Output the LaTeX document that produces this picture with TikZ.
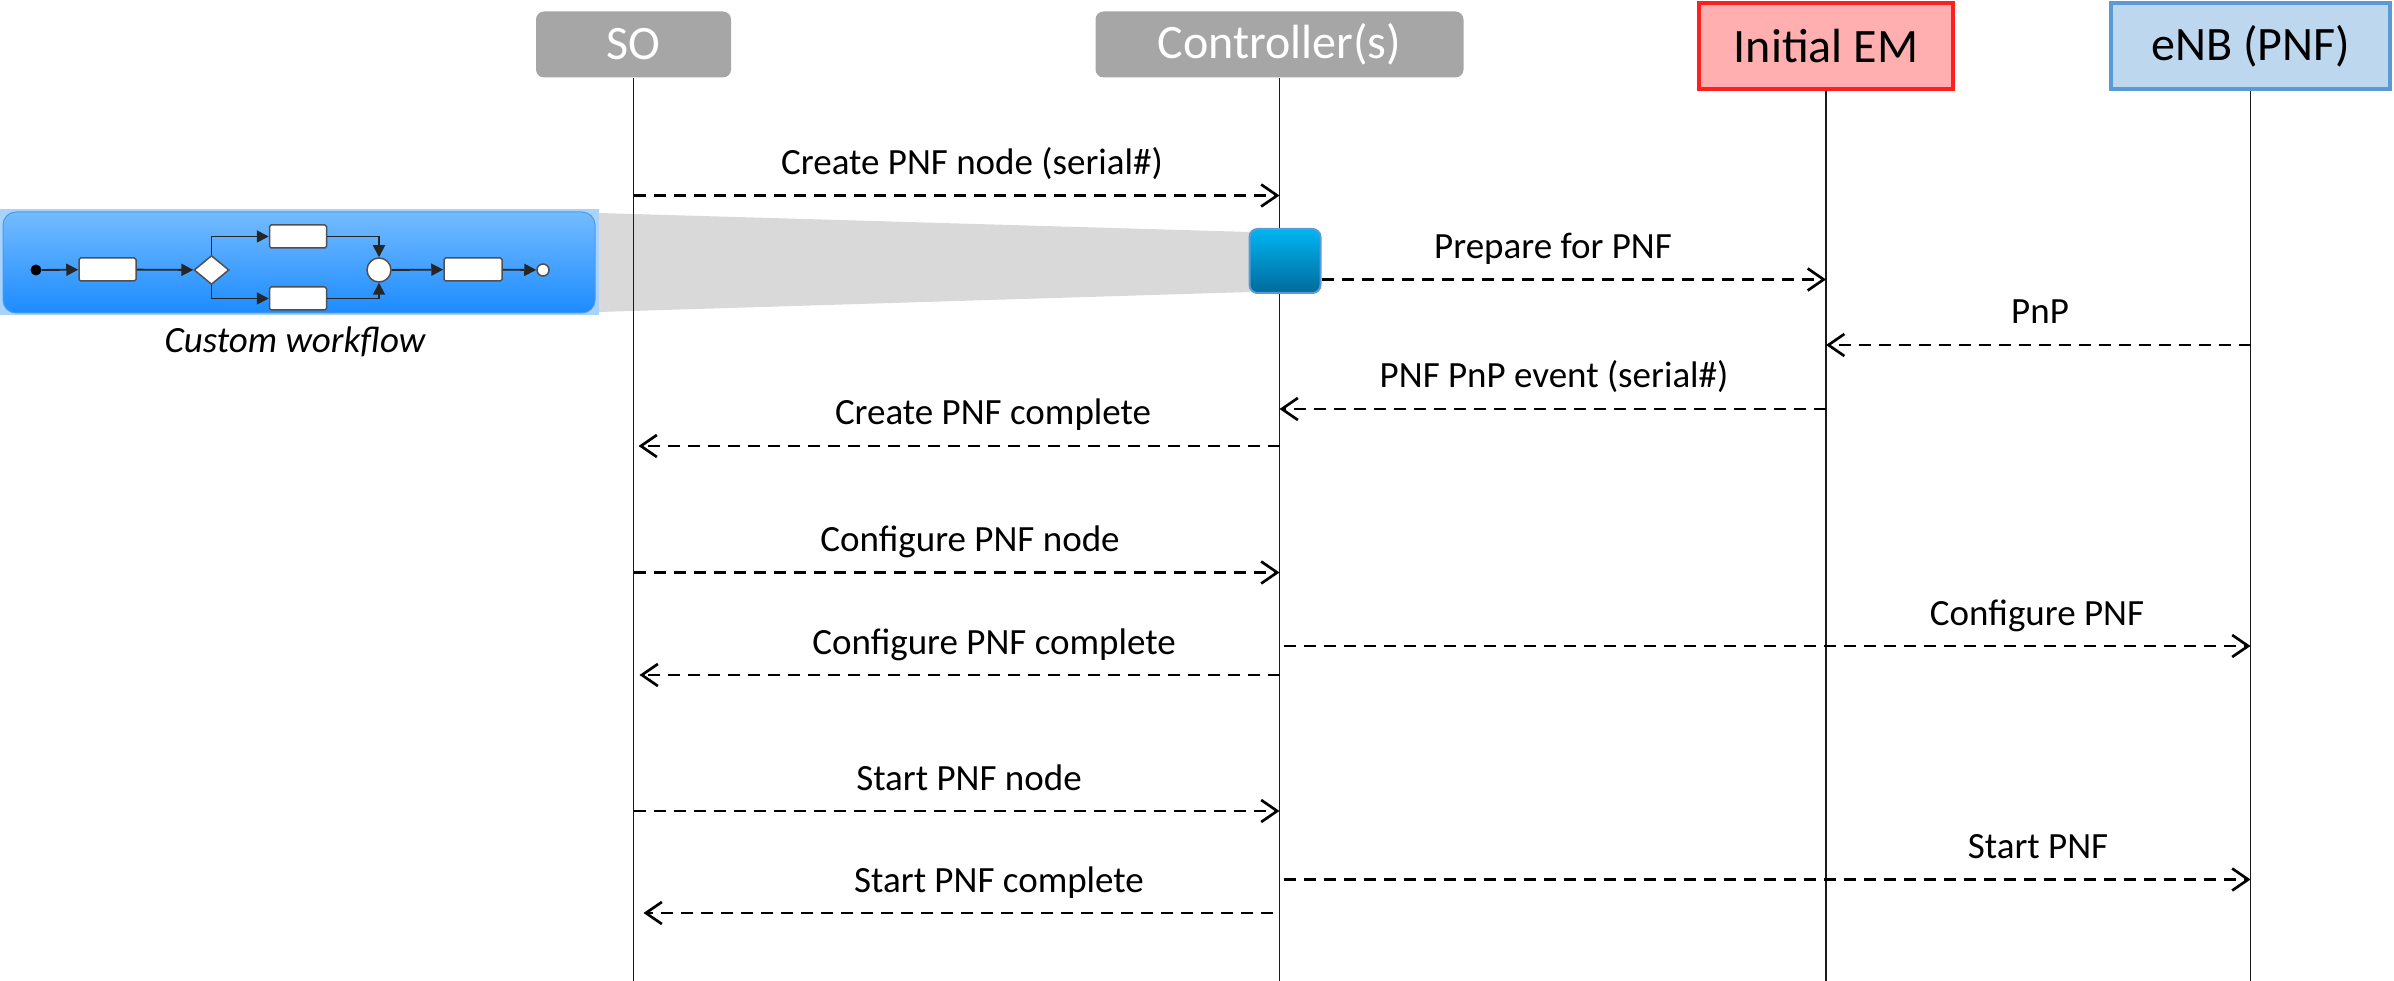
\documentclass[tikz,border=0pt]{standalone}
\usepackage{fontspec}
\setmainfont{Carlito}
\usetikzlibrary{arrows.meta,shapes.geometric}
\definecolor{hdrgray}{HTML}{A6A6A6}
\definecolor{emfill}{HTML}{FFAFAF}
\definecolor{emline}{HTML}{FF1F1F}
\definecolor{enbfill}{HTML}{BDD7EE}
\definecolor{enbline}{HTML}{5B9BD5}
\definecolor{wfframe}{HTML}{A9D3FB}
\definecolor{wftop}{HTML}{74BBFF}
\definecolor{wfbot}{HTML}{1C8CFF}
\definecolor{wfedge}{HTML}{4A9BE8}
\definecolor{acttop}{HTML}{00B5F1}
\definecolor{actbot}{HTML}{006A9C}
\definecolor{actedge}{HTML}{5B9BD5}
\definecolor{zoomgray}{HTML}{D9D9D9}
\definecolor{lifecol}{HTML}{1A1A1A}
\definecolor{taskedge}{HTML}{505050}

\begin{document}
\begin{tikzpicture}[x=0.3pt, y=-0.3pt,
  hdr/.style={rectangle, inner sep=0pt, font=\fontsize{14.4}{17}\selectfont},
  grayhdr/.style={hdr, fill=hdrgray, text=white, rounded corners=2.4pt, minimum height=19.8pt},
  emhdr/.style={hdr, fill=emfill, draw=emline, line width=1.2pt, minimum width=76.2pt, minimum height=25.8pt},
  enbhdr/.style={hdr, fill=enbfill, draw=enbline, line width=1.2pt, minimum width=83.7pt, minimum height=25.8pt},
  life/.style={draw=lifecol, line width=0.45pt},
  msg/.style={line width=0.85pt, dash pattern=on 3.6pt off 2.4pt,
    -{Straight Barb[length=4.8pt, width=6.6pt, line width=0.8pt]}},
  lbl/.style={anchor=base, inner sep=0pt, font=\fontsize{11.1}{13}\selectfont},
  task/.style={rectangle, fill=white, draw=taskedge, line width=0.45pt, rounded corners=0.5pt,
    minimum width=17.1pt, minimum height=6.9pt, inner sep=0pt},
  wfline/.style={draw=black!85, line width=0.55pt, -{Triangle[length=3.6pt, width=3.6pt]}},
]
\useasboundingbox (0,0) rectangle (2394,981);

% ---- participants ----
\node[grayhdr, minimum width=58.5pt] (so) at (633.5,44.5) {SO};
\node[grayhdr, minimum width=110.4pt] (ctl) at (1279.5,44.5) {Controller(s)};
\node[emhdr] (em) at (1826,46.5) {Initial EM};
\node[enbhdr] (enb) at (2250.5,46.5) {eNB (PNF)};

% ---- custom workflow panel ----
\node[rectangle, fill=wfframe, minimum width=179.7pt, minimum height=31.8pt, inner sep=0pt]
  (wfback) at (299.5,262) {};
\fill[zoomgray] (599,213) -- (1250,232) -- (1250,292) -- (599,312) -- cycle;
\node[rectangle, rounded corners=3.9pt, top color=wftop, bottom color=wfbot, draw=wfedge,
  line width=0.3pt, minimum width=177.6pt, minimum height=30.3pt, inner sep=0pt]
  (wf) at (299,262.5) {};

\node[circle, fill=black, minimum size=3.3pt, inner sep=0pt] (wstart) at (36,270) {};
\node[task] (wt1) at (107.5,269.5) {};
\node[diamond, fill=white, draw=taskedge, line width=0.45pt, minimum width=10.5pt,
  minimum height=8.7pt, inner sep=0pt] (wgw) at (211.5,270) {};
\node[task] (wt2) at (298,236.5) {};
\node[task] (wt3) at (298,298.5) {};
\node[circle, fill=white, draw=taskedge, line width=0.45pt, minimum size=7.2pt, inner sep=0pt]
  (wjoin) at (379,270) {};
\node[task, minimum width=17.4pt] (wt4) at (473,269.5) {};
\node[circle, fill=white, draw=taskedge, line width=0.45pt, minimum size=3.6pt, inner sep=0pt]
  (wend) at (543,270) {};

\draw[wfline] (wstart) -- (wt1);
\draw[wfline] (wt1) -- (wgw);
\draw[wfline] (wgw.north) |- (wt2.west);
\draw[wfline] (wgw.south) |- (wt3.west);
\draw[wfline] (wt2.east) -| (wjoin.north);
\draw[wfline] (wt3.east) -| (wjoin.south);
\draw[wfline] (wjoin) -- (wt4);
\draw[wfline] (wt4) -- (wend);

\node[anchor=base, inner sep=0pt, font=\fontsize{11.1}{13}\selectfont\itshape]
  (wflabel) at (295,353) {Custom workflow};

% ---- lifelines ----
\coordinate (bottom) at (0,981);
\draw[life] (so.south) -- (so.south |- bottom);
\draw[life] (ctl.south) -- (ctl.south |- bottom);
\draw[life] (em.south) -- (em.south |- bottom);
\draw[life] (enb.south) -- (enb.south |- bottom);

% activation box on the controller
\node[rectangle, rounded corners=2.4pt, top color=acttop, bottom color=actbot, draw=actedge,
  line width=0.6pt, minimum width=21.3pt, minimum height=19.2pt, inner sep=0pt]
  (act) at (1285,261) {};

% ---- message rows ----
\coordinate (m1) at (0,195.5);
\coordinate (m2) at (0,279.5);
\coordinate (m3) at (0,345);
\coordinate (m4) at (0,409);
\coordinate (m5) at (0,446);
\coordinate (m6) at (0,572.5);
\coordinate (m7) at (0,646);
\coordinate (m8) at (0,675);
\coordinate (m9) at (0,811);
\coordinate (m10) at (0,879.5);
\coordinate (m11) at (0,913);

\draw[msg] (so |- m1) -- (ctl |- m1);
\node[lbl] (l1) at (972,174.5) {Create PNF node (serial\#)};

\draw[msg] (act.east |- m2) -- (em |- m2);
\node[lbl] (l2) at (1553,258.5) {Prepare for PNF};

\draw[msg] (enb |- m3) -- (em |- m3);
\node[lbl] (l3) at (2040,324) {PnP};

\draw[msg] (em |- m4) -- (ctl |- m4);
\node[lbl] (l4) at (1554,388) {PNF PnP event (serial\#)};

\draw[msg, shorten >=1.5pt] (ctl |- m5) -- (so |- m5);
\node[lbl] (l5) at (993,425) {Create PNF complete};

\draw[msg] (so |- m6) -- (ctl |- m6);
\node[lbl] (l6) at (970,551.5) {Configure PNF node};

\draw[msg, shorten <=1.2pt] (ctl |- m7) -- (enb |- m7);
\node[lbl] (l7) at (2037,625) {Configure PNF};

\draw[msg, shorten >=1.8pt] (ctl |- m8) -- (so |- m8);
\node[lbl] (l8) at (994,654) {Configure PNF complete};

\draw[msg] (so |- m9) -- (ctl |- m9);
\node[lbl] (l9) at (969,790) {Start PNF node};

\draw[msg, shorten <=1.2pt] (ctl |- m10) -- (enb |- m10);
\node[lbl] (l10) at (2038,858.5) {Start PNF};

\draw[msg, shorten <=2.1pt, shorten >=3pt] (ctl |- m11) -- (so |- m11);
\node[lbl] (l11) at (999,892) {Start PNF complete};
\end{tikzpicture}
\end{document}
